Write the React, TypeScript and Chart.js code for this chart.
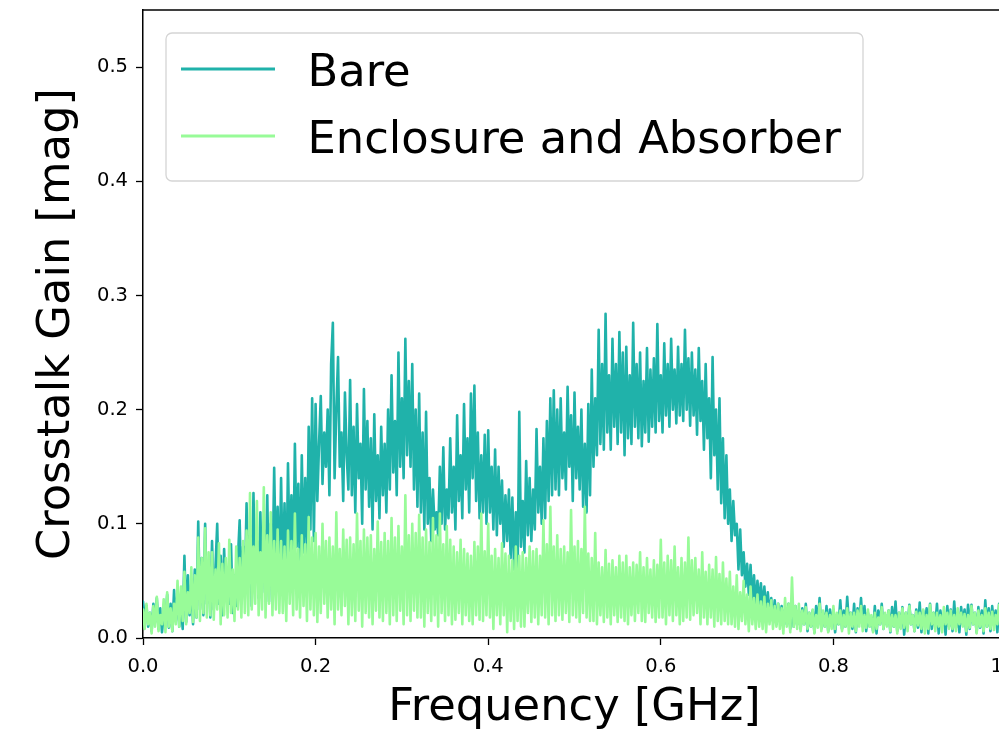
import { useEffect, useRef } from "react";
import { Chart, registerables } from "chart.js";

Chart.register(...registerables);

// Frequency grid step (GHz) – samples start at 0 GHz
const FREQ_STEP_GHZ = 0.002;

// Crosstalk gain, in thousandths of a magnitude unit
const BARE_MILLI = [
  32, 18, 28, 10, 22, 6, 30, 14, 35, 8, 26, 5, 20, 12, 38, 9, 30, 6, 42, 15,
  40, 10, 28, 8, 72, 14, 55, 20, 48, 12, 60, 18, 102, 25, 70, 20, 100, 30, 65, 18,
  85, 25, 62, 100, 30, 72, 20, 78, 35, 60, 30, 82, 22, 55, 28, 70, 103, 35, 80, 40,
  118, 45, 90, 28, 127, 50, 85, 35, 110, 40, 95, 55, 125, 32, 100, 48, 149, 60, 115, 45,
  140, 50, 118, 38, 153, 70, 125, 55, 170, 80, 135, 50, 160, 75, 140, 70, 185, 95, 210, 85,
  205, 120, 170, 212, 135, 180, 150, 200, 125, 240, 276, 140, 200, 246, 150, 180, 120, 215, 160, 130,
  226, 125, 185, 110, 205, 140, 170, 100, 218, 130, 190, 115, 175, 95, 196, 120, 160, 105, 185, 125,
  170, 110, 200, 130, 230, 145, 190, 125, 250, 150, 210, 140, 262, 160, 225, 150, 240, 130, 200, 115,
  214, 110, 180, 95, 198, 100, 140, 85, 130, 95, 110, 90, 150, 100, 167, 95, 130, 105, 175, 110,
  150, 95, 195, 120, 160, 105, 205, 130, 175, 110, 214, 140, 221, 120, 180, 105, 160, 110, 178, 100,
  182, 110, 150, 95, 165, 90, 150, 100, 138, 80, 125, 85, 130, 70, 123, 60, 110, 50, 198, 80,
  120, 75, 155, 90, 140, 85, 130, 95, 183, 110, 150, 100, 175, 105, 190, 120, 210, 125, 217, 130,
  200, 125, 210, 140, 180, 130, 220, 150, 195, 120, 215, 140, 185, 130, 200, 115, 170, 110, 205, 125,
  235, 150, 210, 160, 270, 170, 240, 165, 284, 180, 230, 165, 262, 185, 240, 170, 268, 180, 250, 160,
  255, 175, 230, 170, 276, 185, 240, 175, 250, 168, 225, 180, 254, 172, 235, 185, 245, 180, 275, 190,
  230, 180, 258, 195, 240, 185, 262, 200, 235, 188, 255, 195, 240, 190, 270, 200, 245, 186, 250, 195,
  235, 178, 254, 190, 225, 165, 240, 175, 210, 140, 246, 160, 200, 130, 210, 118, 175, 105, 160, 100,
  130, 85, 120, 90, 100, 60, 95, 55, 75, 45, 65, 38, 64, 32, 55, 28, 50, 30, 48, 25,
  45, 22, 40, 20, 35, 15, 33, 12, 30, 15, 28, 10, 25, 12, 30, 8, 26, 10, 28, 12,
  24, 8, 26, 12, 30, 6, 22, 10, 24, 5, 28, 12, 35, 8, 22, 10, 28, 6, 25, 12,
  25, 5, 20, 12, 33, 8, 24, 10, 36, 12, 22, 8, 30, 5, 26, 14, 35, 10, 28, 6,
  22, 10, 18, 6, 28, 4, 24, 12, 30, 8, 20, 12, 24, 5, 27, 10, 32, 6, 22, 9,
  27, 3, 22, 10, 29, 12, 20, 6, 25, 9, 31, 5, 24, 11, 26, 4, 30, 8, 22, 10,
  30, 4, 24, 11, 20, 3, 28, 10, 25, 6, 32, 9, 22, 5, 27, 12, 25, 3, 29, 8,
  29, 12, 22, 5, 27, 9, 24, 4, 33, 10, 26, 6, 28, 12, 24, 5, 30, 10, 26, 14,
];

const ENCLOSURE_MILLI = [
  25, 8, 30, 12, 22, 4, 28, 10, 36, 6, 20, 12, 34, 5, 40, 10, 26, 6, 30, 12,
  50, 10, 45, 15, 58, 12, 40, 22, 62, 14, 55, 18, 88, 15, 70, 22, 96, 18, 75, 20,
  75, 16, 60, 25, 83, 12, 65, 20, 70, 18, 86, 22, 60, 15, 80, 25, 70, 18, 85, 22,
  94, 20, 127, 25, 80, 30, 120, 20, 75, 25, 132, 18, 90, 30, 110, 20, 85, 25, 95, 22,
  85, 22, 80, 15, 94, 30, 85, 20, 109, 25, 78, 18, 90, 28, 82, 15, 106, 25, 88, 20,
  92, 14, 80, 22, 100, 30, 85, 18, 88, 25, 80, 12, 110, 25, 78, 20, 95, 28, 86, 12,
  88, 20, 82, 15, 109, 24, 85, 10, 95, 22, 88, 18, 90, 12, 78, 24, 102, 18, 84, 15,
  92, 22, 85, 12, 105, 20, 88, 15, 98, 24, 80, 12, 125, 20, 90, 15, 100, 24, 92, 18,
  108, 18, 88, 10, 95, 22, 84, 15, 105, 20, 90, 10, 109, 22, 82, 15, 98, 20, 86, 12,
  80, 16, 75, 22, 86, 12, 78, 20, 74, 15, 72, 12, 84, 20, 80, 16, 109, 15, 76, 20,
  100, 18, 72, 8, 78, 20, 70, 12, 83, 20, 74, 5, 72, 15, 68, 8, 80, 15, 72, 10,
  75, 10, 70, 22, 80, 14, 76, 18, 78, 12, 72, 20, 103, 18, 82, 12, 115, 20, 80, 15,
  90, 20, 78, 16, 80, 22, 75, 14, 112, 20, 80, 18, 85, 14, 78, 22, 115, 18, 74, 15,
  70, 15, 92, 12, 66, 20, 62, 14, 77, 18, 65, 12, 68, 20, 62, 14, 72, 18, 66, 15,
  72, 12, 62, 20, 66, 15, 64, 22, 75, 15, 62, 14, 70, 22, 60, 18, 68, 14, 64, 18,
  86, 18, 66, 12, 72, 20, 68, 15, 80, 20, 62, 12, 70, 15, 66, 18, 88, 16, 68, 20,
  70, 22, 60, 12, 75, 18, 58, 12, 64, 18, 60, 10, 71, 15, 56, 12, 66, 15, 52, 12,
  58, 12, 45, 10, 55, 8, 40, 15, 50, 12, 38, 6, 45, 12, 35, 8, 38, 10, 32, 8,
  36, 5, 30, 12, 33, 8, 28, 10, 30, 8, 26, 4, 35, 10, 30, 5, 53, 10, 28, 8,
  30, 6, 24, 12, 27, 8, 22, 10, 25, 4, 20, 9, 30, 6, 24, 10, 22, 5, 20, 8,
  28, 8, 22, 12, 24, 6, 20, 10, 26, 4, 22, 10, 22, 6, 24, 10, 28, 6, 20, 9,
  25, 10, 20, 5, 22, 8, 18, 12, 27, 8, 22, 10, 24, 6, 20, 10, 20, 4, 22, 8,
  26, 9, 22, 6, 28, 12, 20, 6, 23, 11, 22, 8, 25, 4, 20, 8, 29, 12, 22, 6,
  22, 10, 20, 5, 27, 12, 22, 8, 24, 8, 20, 6, 26, 12, 22, 10, 21, 6, 20, 9,
  28, 12, 22, 4, 24, 10, 20, 6, 26, 10, 22, 8, 23, 7, 20, 12, 29, 10, 22, 6,
];

const SERIES_LABELS = ["Bare", "Enclosure and Absorber"];
const SERIES_COLORS = ["#20B2AA", "#98FB98"];
const X_TICKS = [0, 0.2, 0.4, 0.6, 0.8, 1.0];
const Y_TICKS = [0, 0.1, 0.2, 0.3, 0.4, 0.5];
const X_LABEL = "Frequency [GHz]";
const Y_LABEL = "Crosstalk Gain [mag]";

const FONT = "'DejaVu Sans', 'Liberation Sans', sans-serif";

const toPoints = (milli: number[]) =>
  milli.map((v, i) => ({ x: i * FREQ_STEP_GHZ, y: v / 1000 }));

const framePlugin = {
  id: "frameAndLegend",
  afterDatasetsDraw(chart: any) {
    const { ctx, chartArea } = chart;
    ctx.save();
    ctx.strokeStyle = "#000";
    ctx.lineWidth = 1.5;
    ctx.beginPath();
    ctx.moveTo(chartArea.left, chartArea.top);
    ctx.lineTo(chartArea.right, chartArea.top);
    ctx.lineTo(chartArea.right, chartArea.bottom);
    ctx.stroke();
    ctx.restore();
  },
  afterDraw(chart: any) {
    const { ctx, chartArea } = chart;
    const x0 = chartArea.left + 23;
    const y0 = chartArea.top + 23;
    const w = 697;
    const h = 148;
    const r = 6;
    ctx.save();
    ctx.beginPath();
    ctx.moveTo(x0 + r, y0);
    ctx.arcTo(x0 + w, y0, x0 + w, y0 + h, r);
    ctx.arcTo(x0 + w, y0 + h, x0, y0 + h, r);
    ctx.arcTo(x0, y0 + h, x0, y0, r);
    ctx.arcTo(x0, y0, x0 + w, y0, r);
    ctx.closePath();
    ctx.fillStyle = "rgba(255,255,255,0.8)";
    ctx.fill();
    ctx.strokeStyle = "#d5d5d5";
    ctx.lineWidth = 1.3;
    ctx.stroke();
    chart.data.datasets.forEach((ds: any, i: number) => {
      const base = y0 + 53 + i * 67;
      ctx.strokeStyle = ds.borderColor;
      ctx.lineWidth = 3;
      ctx.beginPath();
      ctx.moveTo(x0 + 15, base - 17);
      ctx.lineTo(x0 + 109, base - 17);
      ctx.stroke();
      ctx.fillStyle = "#000";
      ctx.font = `44.8px ${FONT}`;
      ctx.textBaseline = "alphabetic";
      ctx.textAlign = "left";
      ctx.fillText(ds.label, x0 + 141.5, base);
    });
    ctx.restore();
  },
};

export default function App() {
  const ref = useRef<HTMLCanvasElement | null>(null);

  useEffect(() => {
    if (!ref.current) return;
    const lineStyle = {
      borderWidth: 2.6,
      pointRadius: 0,
      tension: 0,
      borderJoinStyle: "round",
      borderCapStyle: "round",
    };
    const chart = new Chart(ref.current, {
      type: "line",
      data: {
        datasets: [
          {
            label: SERIES_LABELS[0],
            data: toPoints(BARE_MILLI),
            borderColor: SERIES_COLORS[0],
            backgroundColor: SERIES_COLORS[0],
            order: 2,
            ...lineStyle,
          },
          {
            label: SERIES_LABELS[1],
            data: toPoints(ENCLOSURE_MILLI),
            borderColor: SERIES_COLORS[1],
            backgroundColor: SERIES_COLORS[1],
            order: 1,
            ...lineStyle,
          },
        ],
      },
      options: {
        responsive: false,
        animation: false,
        devicePixelRatio: 1,
        layout: { padding: { left: 0, top: 10, right: 34, bottom: 0 } },
        plugins: { legend: { display: false }, tooltip: { enabled: false } },
        scales: {
          x: {
            type: "linear",
            min: 0,
            max: 1,
            afterBuildTicks: (s: any) => {
              s.ticks = X_TICKS.map((v) => ({ value: v }));
            },
            afterFit: (s: any) => {
              s.height = 97;
              s.paddingLeft = 0;
              s.paddingRight = 0;
            },
            grid: {
              drawOnChartArea: false,
              drawTicks: true,
              tickLength: 7,
              tickColor: "#000",
              tickWidth: 1.3,
            },
            border: { display: true, color: "#000", width: 1.5 },
            ticks: {
              autoSkip: false,
              maxRotation: 0,
              padding: 10,
              color: "#000",
              font: { family: FONT, size: 19.5 },
              callback: (v: any) => Number(v).toFixed(1),
            },
            title: {
              display: true,
              text: X_LABEL,
              color: "#000",
              font: { family: FONT, size: 44.8 },
              padding: { top: 0, bottom: 0 },
            },
          },
          y: {
            type: "linear",
            min: 0,
            max: 0.55,
            afterBuildTicks: (s: any) => {
              s.ticks = Y_TICKS.map((v) => ({ value: v }));
            },
            afterFit: (s: any) => {
              s.width = 143;
              s.paddingTop = 0;
              s.paddingBottom = 0;
            },
            grid: {
              drawOnChartArea: false,
              drawTicks: true,
              tickLength: 7,
              tickColor: "#000",
              tickWidth: 1.3,
            },
            border: { display: true, color: "#000", width: 1.5 },
            ticks: {
              padding: 8,
              color: "#000",
              font: { family: FONT, size: 19.5 },
              callback: (v: any) => Number(v).toFixed(1),
            },
            title: {
              display: true,
              text: Y_LABEL,
              color: "#000",
              font: { family: FONT, size: 44.8 },
              padding: { top: 30, bottom: 0 },
            },
          },
        },
      },
      plugins: [framePlugin],
    } as any);
    return () => chart.destroy();
  }, []);

  return (
    <div
      style={{
        position: "fixed",
        left: 0,
        top: 0,
        width: 999,
        height: 735,
        overflow: "hidden",
        background: "#fff",
      }}
    >
      <canvas ref={ref} width={1040} height={735} style={{ display: "block" }} />
    </div>
  );
}
